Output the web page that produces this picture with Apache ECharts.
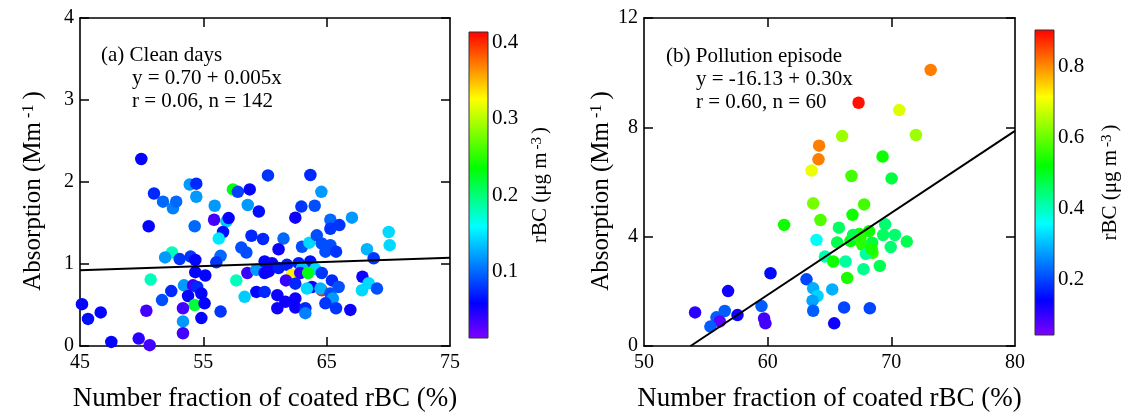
<!DOCTYPE html>
<html>
<head>
<meta charset="utf-8">
<script src="https://cdn.jsdelivr.net/npm/echarts@6/dist/echarts.min.js"></script>
<style>
  html, body { margin: 0; padding: 0; background: #fff; }
  #chart { width: 1137px; height: 418px; }
</style>
</head>
<body>
<div id="chart"></div>
<script>
// ---- (a) Clean days: number fraction of coated rBC (%), absorption (Mm-1), rBC (ug m-3)
const cleanX = [
  64.6, 49.97, 51.0, 51.73, 52.54, 52.8, 53.9, 54.43, 54.43, 55.92, 57.4, 57.8, 58.76, 58.6, 59.5, 60.24,
  50.57, 54.3, 56.87, 55.87, 57.05, 56.6, 56.25, 58.9, 59.84, 58.08, 58.49, 56.4,
  52.46, 51.9, 53.08, 53.97, 54.35, 56.05, 50.73, 54.35, 55.16, 53.43, 54.16, 54.5,
  52.4, 53.76, 54.84, 51.65, 54.3, 53.35, 55.1, 50.38, 46.68, 45.16, 45.65, 56.4,
  54.84, 53.35, 53.35, 47.54, 49.76, 50.65, 59.3, 58.35, 57.67, 58.57, 59.3, 59.97,
  59.97, 59.97,
  63.68, 64.57, 62.95, 64.03, 62.46, 65.3, 66.03, 65.3, 67.05, 70.03, 70.11, 68.27, 68.81,
  61.5, 61.1, 63.0, 63.6, 64.2, 64.6, 65.3, 64.9, 65.76, 60.57, 60.3, 61.1, 61.78,
  62.73, 63.67, 64.08, 63.0, 62.19, 62.86, 61.7, 63.5, 62.46, 64.6, 63.8, 63.4, 64.5,
  65.43, 65.97, 65.3, 65.5, 64.9, 65.76, 66.92, 67.9, 68.4, 67.86, 69.08, 61.0, 61.65,
  61.0, 62.46, 63.27, 63.27, 62.46
];
const cleanY = [
  0.68, 2.28, 1.86, 1.76, 1.68, 1.76, 1.97, 1.98, 1.82, 1.71, 1.91, 1.88, 1.91, 1.72, 1.64, 2.08,
  1.46, 1.46, 1.52, 1.54, 1.56, 1.39, 1.31, 1.345, 1.305, 1.20, 1.14, 1.10,
  1.14, 1.08, 1.06, 1.09, 1.05, 1.02, 0.81, 0.90, 0.86, 0.74, 0.74, 0.72,
  0.67, 0.61, 0.64, 0.56, 0.50, 0.46, 0.52, 0.43, 0.41, 0.51, 0.33, 0.42,
  0.34, 0.30, 0.155, 0.05, 0.09, 0.01, 0.66, 0.60, 0.80, 0.89, 0.93, 0.89,
  0.66, 1.03,
  2.085, 1.88, 1.70, 1.71, 1.565, 1.54, 1.475, 1.43, 1.565, 1.39, 1.23, 1.18, 1.07,
  1.31, 1.18, 1.21, 1.26, 1.35, 1.25, 1.23, 1.15, 1.15, 1.01, 0.91, 0.95, 0.99,
  1.01, 1.03, 0.94, 0.95, 0.87, 0.89, 0.80, 0.89, 0.76, 0.89, 0.72, 0.70, 0.70,
  0.80, 0.72, 0.64, 0.58, 0.52, 0.46, 0.44, 0.845, 0.765, 0.68, 0.70, 0.62, 0.54,
  0.46, 0.47, 0.46, 0.40, 0.58
];
const cleanRBC = [
  0.40, 0.06, 0.075, 0.10, 0.11, 0.10, 0.12, 0.075, 0.12, 0.12, 0.23, 0.085, 0.06, 0.12, 0.065, 0.08,
  0.06, 0.10, 0.14, 0.035, 0.06, 0.065, 0.15, 0.075, 0.075, 0.09, 0.09, 0.10,
  0.18, 0.12, 0.08, 0.08, 0.06, 0.08, 0.18, 0.06, 0.06, 0.12, 0.04, 0.075,
  0.075, 0.06, 0.06, 0.09, 0.22, 0.035, 0.06, 0.035, 0.06, 0.06, 0.065, 0.08,
  0.06, 0.12, 0.035, 0.06, 0.045, 0.035, 0.06, 0.14, 0.18, 0.04, 0.12, 0.06,
  0.075, 0.06,
  0.075, 0.12, 0.08, 0.09, 0.055, 0.10, 0.08, 0.08, 0.12, 0.145, 0.145, 0.13, 0.08,
  0.10, 0.055, 0.09, 0.145, 0.09, 0.09, 0.09, 0.09, 0.08, 0.055, 0.055, 0.07, 0.07,
  0.07, 0.065, 0.145, 0.135, 0.33, 0.04, 0.04, 0.23, 0.075, 0.08, 0.055, 0.145, 0.13,
  0.075, 0.09, 0.09, 0.12, 0.08, 0.08, 0.055, 0.055, 0.145, 0.145, 0.09, 0.055, 0.055,
  0.055, 0.055, 0.075, 0.11, 0.055
];

// ---- (b) Pollution episode
const pollX = [
  73.18, 67.35, 70.64, 66.02, 71.99, 64.16, 64.11, 63.55, 69.29, 66.78, 70.02, 63.68,
  67.8, 64.27, 66.86, 61.33, 65.76, 69.5, 68.2, 67.4, 69.34, 70.29, 63.95, 65.62,
  66.7, 67.65, 68.45, 69.95, 71.25, 68.48, 67.94, 64.63, 65.3, 66.3, 69.07, 67.75,
  66.43, 60.23, 63.14, 63.68, 64.03, 63.63, 63.68, 65.22, 66.18, 68.26, 65.38, 59.5,
  59.71, 59.82, 56.8, 57.56, 54.13, 56.53, 55.86, 56.13, 55.37, 66.91, 67.5, 68.4
];
const pollY = [
  10.10, 8.90, 8.63, 7.68, 7.72, 7.33, 6.83, 6.42, 6.93, 6.22, 6.13, 5.22,
  5.18, 4.61, 4.80, 4.43, 4.33, 4.45, 4.20, 4.10, 4.06, 4.06, 3.88, 3.79,
  3.84, 3.70, 3.78, 3.62, 3.82, 3.41, 3.37, 3.27, 3.09, 3.09, 2.93, 2.81,
  2.49, 2.66, 2.44, 2.11, 1.83, 1.66, 1.29, 2.07, 1.41, 1.38, 0.83, 1.46,
  1.01, 0.83, 2.01, 1.13, 1.23, 1.28, 1.05, 0.90, 0.71, 4.06, 3.95, 3.55
];
const pollRBC = [
  0.81, 0.89, 0.69, 0.64, 0.64, 0.81, 0.81, 0.70, 0.53, 0.57, 0.48, 0.61,
  0.57, 0.58, 0.53, 0.53, 0.46, 0.45, 0.53, 0.54, 0.46, 0.45, 0.36, 0.47,
  0.52, 0.55, 0.48, 0.45, 0.47, 0.56, 0.42, 0.41, 0.53, 0.42, 0.47, 0.43,
  0.54, 0.15, 0.20, 0.29, 0.32, 0.28, 0.22, 0.29, 0.20, 0.20, 0.13, 0.22,
  0.09, 0.09, 0.13, 0.13, 0.11, 0.22, 0.22, 0.07, 0.22, 0.47, 0.55, 0.54
];

// Linear fits printed in the panels: y = intercept + slope * x
const fitIntercept = [0.70, -16.13];
const fitSlope = [0.005, 0.30];

// Axis ranges and tick labels
const xRangeA = [45, 75], yRangeA = [0, 4];
const xRangeB = [50, 80], yRangeB = [0, 12];
const xTicksA = [45, 55, 65, 75];
const xTicksB = [50, 60, 70, 80];
const cbarRangeA = [0.0137, 0.4137], cbarTicksA = [0.1, 0.2, 0.3, 0.4];
const cbarRangeB = [0.043, 0.9035], cbarTicksB = [0.2, 0.4, 0.6, 0.8];

// Rainbow colour scale (violet -> blue -> cyan -> green -> yellow -> red)
const RAINBOW = [
  [0, [128, 0, 255]], [0.115, [0, 0, 255]], [0.365, [0, 255, 255]],
  [0.555, [0, 255, 0]], [0.78, [255, 255, 0]], [1, [255, 0, 0]]
];
function rainbow(t) {
  for (let i = 1; i < RAINBOW.length; i++) {
    const [o1, c1] = RAINBOW[i - 1], [o2, c2] = RAINBOW[i];
    if (t <= o2) {
      const f = (t - o1) / (o2 - o1);
      const c = c1.map((v, k) => Math.round(v + (c2[k] - v) * f));
      return `rgb(${c[0]},${c[1]},${c[2]})`;
    }
  }
  return 'rgb(255,0,0)';
}
const palette = Array.from({ length: 101 }, (_, i) => rainbow(i / 100));
const gradientStops = RAINBOW.map(([o, c]) => ({ offset: o, color: `rgb(${c[0]},${c[1]},${c[2]})` }));

const FONT = '"Liberation Serif", "Times New Roman", serif';
const BLACK = '#000';

const grids = [
  { left: 80, top: 18, width: 370, height: 328 },    // (a) scatter
  { left: 644, top: 18, width: 371, height: 328 },   // (b) scatter
  { left: 469, top: 32, width: 19, height: 306 },    // (a) colour bar
  { left: 1035, top: 30, width: 19, height: 305 }    // (b) colour bar
];

const supStyle = { fontSize: 15, fontFamily: FONT, color: BLACK, verticalAlign: 'top', lineHeight: 16, padding: [0, 3, 0, 3] };

function frameX(gridIndex, range, ticks, position, showLabels, tickCustom, name) {
  const ax = {
    type: 'value', gridIndex, position, min: range[0], max: range[1],
    axisLine: { show: true, onZero: false, lineStyle: { color: BLACK, width: 1.6 } },
    axisTick: { show: true, inside: true, length: 9, lineStyle: { color: BLACK, width: 1.5 }, customValues: tickCustom },
    axisLabel: { show: showLabels, customValues: ticks, margin: 7, color: BLACK, fontFamily: FONT, fontSize: 20 },
    splitLine: { show: false }
  };
  if (name) {
    Object.assign(ax, {
      name, nameLocation: 'middle', nameGap: 39,
      nameTextStyle: { fontFamily: FONT, fontSize: 27, color: BLACK }
    });
  }
  return ax;
}

function frameY(gridIndex, range, interval, position, showLabels, name, nameGap) {
  const ax = {
    type: 'value', gridIndex, position, min: range[0], max: range[1], interval,
    axisLine: { show: true, onZero: false, lineStyle: { color: BLACK, width: 1.6 } },
    axisTick: { show: true, inside: true, length: 9, lineStyle: { color: BLACK, width: 1.5 } },
    axisLabel: { show: showLabels, margin: 6, color: BLACK, fontFamily: FONT, fontSize: 20 },
    splitLine: { show: false }
  };
  if (name) {
    Object.assign(ax, {
      name, nameLocation: 'middle', nameGap, nameRotate: 90,
      nameTextStyle: { fontFamily: FONT, fontSize: 25, color: BLACK, padding: [0, 18, 0, 0],
        rich: { sup: Object.assign({}, supStyle, { fontSize: 16, padding: [0, 5, 0, 4] }) } }
    });
  }
  return ax;
}

function cbarY(gridIndex, range, ticks, nameGap) {
  return {
    type: 'value', gridIndex, position: 'right', min: range[0], max: range[1],
    axisLine: { show: false },
    axisTick: { show: true, inside: false, length: 5, lineStyle: { color: '#222', width: 1.2 }, customValues: ticks },
    axisLabel: { show: true, customValues: ticks, margin: 4, color: BLACK, fontFamily: FONT, fontSize: 21,
      formatter: v => v.toFixed(1) },
    splitLine: { show: false },
    name: 'rBC (μg m{sup|-3})', nameLocation: 'middle', nameRotate: 90, nameGap,
    nameTextStyle: { fontFamily: FONT, fontSize: 21, color: BLACK, rich: { sup: supStyle } }
  };
}

function cbarX(gridIndex) {
  return { type: 'value', gridIndex, min: 0, max: 1, show: false };
}

function fitLine(k, xFrom, xTo) {
  const f = x => fitIntercept[k] + fitSlope[k] * x;
  return [[xFrom, f(xFrom)], [xTo, f(xTo)]];
}

function colorBar(xAxisIndex, yAxisIndex, range) {
  return {
    type: 'custom', xAxisIndex, yAxisIndex, silent: true,
    data: [[0, range[0], range[1]]],
    renderItem: (params, api) => {
      const p0 = api.coord([0, api.value(1)]);
      const p1 = api.coord([1, api.value(2)]);
      return {
        type: 'rect',
        shape: { x: p0[0], y: p1[1], width: p1[0] - p0[0], height: p0[1] - p1[1] },
        style: { fill: new echarts.graphic.LinearGradient(0, 1, 0, 0, gradientStops), stroke: '#333', lineWidth: 1 }
      };
    }
  };
}

const cleanData = cleanX.map((x, i) => [x, cleanY[i], cleanRBC[i]]);
const pollData = pollX.map((x, i) => [x, pollY[i], pollRBC[i]]);

// Pollution fit starts where it crosses zero absorption
const pollZero = -fitIntercept[1] / fitSlope[1];

const xTitle = 'Number fraction of coated rBC (%)';
const yTitle = 'Absorption (Mm{sup|-1})';

const option = {
  animation: false,
  backgroundColor: '#fff',
  textStyle: { fontFamily: FONT },
  grid: grids,
  xAxis: [
    frameX(0, xRangeA, xTicksA, 'bottom', true, [55, 65], xTitle),
    frameX(0, xRangeA, xTicksA, 'top', false, [55, 65]),
    frameX(1, xRangeB, xTicksB, 'bottom', true, [60, 70], xTitle),
    frameX(1, xRangeB, xTicksB, 'top', false, [60, 70]),
    cbarX(2),
    cbarX(3)
  ],
  yAxis: [
    frameY(0, yRangeA, 1, 'left', true, yTitle, 34),
    frameY(0, yRangeA, 1, 'right', false),
    frameY(1, yRangeB, 4, 'left', true, yTitle, 29),
    frameY(1, yRangeB, 4, 'right', false),
    cbarY(2, cbarRangeA, cbarTicksA, 42),
    cbarY(3, cbarRangeB, cbarTicksB, 46)
  ],
  visualMap: [
    { type: 'continuous', show: false, seriesIndex: 0, dimension: 2,
      min: cbarRangeA[0], max: cbarRangeA[1], inRange: { color: palette } },
    { type: 'continuous', show: false, seriesIndex: 2, dimension: 2,
      min: cbarRangeB[0], max: cbarRangeB[1], inRange: { color: palette } }
  ],
  series: [
    { type: 'scatter', xAxisIndex: 0, yAxisIndex: 0, data: cleanData, symbolSize: 12.5,
      itemStyle: { opacity: 1 }, clip: false },
    { type: 'line', xAxisIndex: 0, yAxisIndex: 0, data: fitLine(0, xRangeA[0], xRangeA[1]),
      showSymbol: false, lineStyle: { color: BLACK, width: 2 }, z: 5 },
    { type: 'scatter', xAxisIndex: 2, yAxisIndex: 2, data: pollData, symbolSize: 12.5,
      itemStyle: { opacity: 1 }, clip: false },
    { type: 'line', xAxisIndex: 2, yAxisIndex: 2, data: fitLine(1, pollZero, xRangeB[1]),
      showSymbol: false, lineStyle: { color: BLACK, width: 2 }, z: 5 },
    colorBar(4, 4, cbarRangeA),
    colorBar(5, 5, cbarRangeB)
  ],
  graphic: [
    { type: 'text', left: 101, top: 45, style: { text: '(a) Clean days', font: `21px ${FONT}`, fill: BLACK, verticalAlign: 'middle' } },
    { type: 'text', left: 132, top: 68, style: { text: 'y = 0.70 + 0.005x', font: `21px ${FONT}`, fill: BLACK, verticalAlign: 'middle' } },
    { type: 'text', left: 132, top: 91, style: { text: 'r = 0.06, n = 142', font: `21px ${FONT}`, fill: BLACK, verticalAlign: 'middle' } },
    { type: 'text', left: 666, top: 46, style: { text: '(b) Pollution episode', font: `21px ${FONT}`, fill: BLACK, verticalAlign: 'middle' } },
    { type: 'text', left: 696, top: 69, style: { text: 'y = -16.13 + 0.30x', font: `21px ${FONT}`, fill: BLACK, verticalAlign: 'middle' } },
    { type: 'text', left: 696, top: 92, style: { text: 'r = 0.60, n = 60', font: `21px ${FONT}`, fill: BLACK, verticalAlign: 'middle' } }
  ]
};

const chart = echarts.init(document.getElementById('chart'), null, { renderer: 'canvas' });
chart.setOption(option);
</script>
</body>
</html>
